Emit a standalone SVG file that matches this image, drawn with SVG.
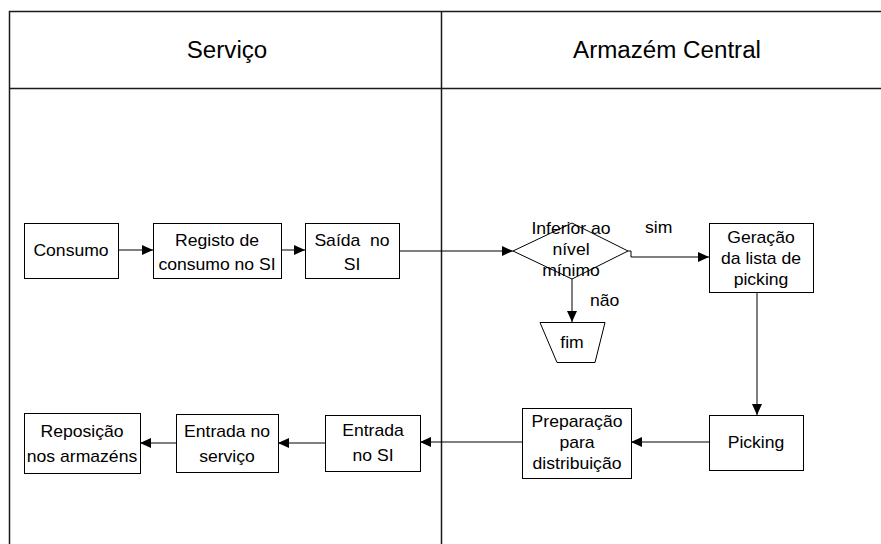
<svg xmlns="http://www.w3.org/2000/svg" width="881" height="544" viewBox="0 0 881 544">
  <style>
    .lane { fill: none; stroke: #1a1a1a; stroke-width: 1.5; }
    .box { fill: #ffffff; stroke: #000000; stroke-width: 1; }
    .conn { fill: none; stroke: #000000; stroke-width: 1; }
    .arrow { marker-end: url(#head); }
    text { font-family: "Liberation Sans", Arial, sans-serif; fill: #000000; }
    .hdr { font-size: 23px; text-anchor: middle; }
    .lbl { font-size: 16px; text-anchor: middle; }
    .tag { font-size: 16px; }
  </style>
  <defs>
    <marker id="head" markerUnits="userSpaceOnUse" markerWidth="11" markerHeight="10" refX="11" refY="5" orient="auto">
      <path d="M0,0 L11,5 L0,10 Z" fill="#000000"/>
    </marker>
  </defs>

  <!-- swimlane frame -->
  <g id="lanes">
    <path class="lane" d="M9.5,544 V11.5 H881"/>
    <path class="lane" d="M9.5,88.5 H881"/>
    <path class="lane" d="M441.5,11.5 V544"/>
    <text class="hdr" transform="translate(227,0) scale(1.05,1)" x="0" y="58">Serviço</text>
    <text class="hdr" transform="translate(667,0) scale(1.05,1)" x="0" y="58">Armazém Central</text>
  </g>

  <!-- connectors -->
  <g id="connectors">
    <path class="conn arrow" d="M118,250 H153"/>
    <path class="conn arrow" d="M281,250 H305"/>
    <path class="conn arrow" d="M399,251 H513"/>
    <path class="conn arrow" d="M628,251 H631 V257 H709"/>
    <path class="conn arrow" d="M572,279 V322"/>
    <path class="conn arrow" d="M757,292 V415"/>
    <path class="conn arrow" d="M709,442 H631"/>
    <path class="conn arrow" d="M522,442 H420"/>
    <path class="conn arrow" d="M325,443 H278"/>
    <path class="conn arrow" d="M176,443 H140"/>
    <text class="tag" transform="translate(645,0) scale(1.1,1)" x="0" y="233">sim</text>
    <text class="tag" transform="translate(590,0) scale(1.1,1)" x="0" y="306">não</text>
  </g>

  <g id="consumo">
    <rect class="box" x="24.5" y="223.5" width="94" height="55"/>
    <text class="lbl" transform="translate(71,0) scale(1.1,1)" x="0" y="256">Consumo</text>
  </g>

  <g id="registo">
    <rect class="box" x="153.5" y="223.5" width="128" height="55"/>
    <text class="lbl" transform="translate(217,0) scale(1.1,1)" x="0" y="246">Registo de</text>
    <text class="lbl" transform="translate(217,0) scale(1.1,1)" x="0" y="270">consumo no SI</text>
  </g>

  <g id="saida">
    <rect class="box" x="305.5" y="223.5" width="94" height="55"/>
    <text class="lbl" transform="translate(352,0) scale(1.1,1)" x="0" y="246" xml:space="preserve">Saída  no</text>
    <text class="lbl" transform="translate(352,0) scale(1.1,1)" x="0" y="270">SI</text>
  </g>

  <g id="decisao">
    <path class="box" d="M513,251 L572,223 L628,251 L572,279 Z" fill="none"/>
    <text class="lbl" transform="translate(571,0) scale(1.1,1)" x="0" y="234">Inferior ao</text>
    <text class="lbl" transform="translate(571,0) scale(1.1,1)" x="0" y="255">nível</text>
    <text class="lbl" transform="translate(571,0) scale(1.1,1)" x="0" y="276">mínimo</text>
  </g>

  <g id="fim">
    <path class="box" d="M540,322.5 H605 L595,362.5 H557 Z"/>
    <text class="lbl" transform="translate(572,0) scale(1.1,1)" x="0" y="348">fim</text>
  </g>

  <g id="geracao">
    <rect class="box" x="709.5" y="223.5" width="104" height="69"/>
    <text class="lbl" transform="translate(761,0) scale(1.1,1)" x="0" y="243">Geração</text>
    <text class="lbl" transform="translate(761,0) scale(1.1,1)" x="0" y="264">da lista de</text>
    <text class="lbl" transform="translate(761,0) scale(1.1,1)" x="0" y="285">picking</text>
  </g>

  <g id="picking">
    <rect class="box" x="709.5" y="415.5" width="94" height="55"/>
    <text class="lbl" transform="translate(756,0) scale(1.1,1)" x="0" y="448">Picking</text>
  </g>

  <g id="preparacao">
    <rect class="box" x="522.5" y="408.5" width="109" height="70"/>
    <text class="lbl" transform="translate(577,0) scale(1.1,1)" x="0" y="427">Preparação</text>
    <text class="lbl" transform="translate(577,0) scale(1.1,1)" x="0" y="448">para</text>
    <text class="lbl" transform="translate(577,0) scale(1.1,1)" x="0" y="469">distribuição</text>
  </g>

  <g id="entrada-si">
    <rect class="box" x="325.5" y="415.5" width="95" height="56"/>
    <text class="lbl" transform="translate(373,0) scale(1.1,1)" x="0" y="436">Entrada</text>
    <text class="lbl" transform="translate(373,0) scale(1.1,1)" x="0" y="461">no SI</text>
  </g>

  <g id="entrada-servico">
    <rect class="box" x="176.5" y="414.5" width="102" height="58"/>
    <text class="lbl" transform="translate(227,0) scale(1.1,1)" x="0" y="437">Entrada no</text>
    <text class="lbl" transform="translate(227,0) scale(1.1,1)" x="0" y="462">serviço</text>
  </g>

  <g id="reposicao">
    <rect class="box" x="24.5" y="413.5" width="116" height="60"/>
    <text class="lbl" transform="translate(82,0) scale(1.1,1)" x="0" y="437">Reposição</text>
    <text class="lbl" transform="translate(82,0) scale(1.1,1)" x="0" y="462">nos armazéns</text>
  </g>
</svg>
